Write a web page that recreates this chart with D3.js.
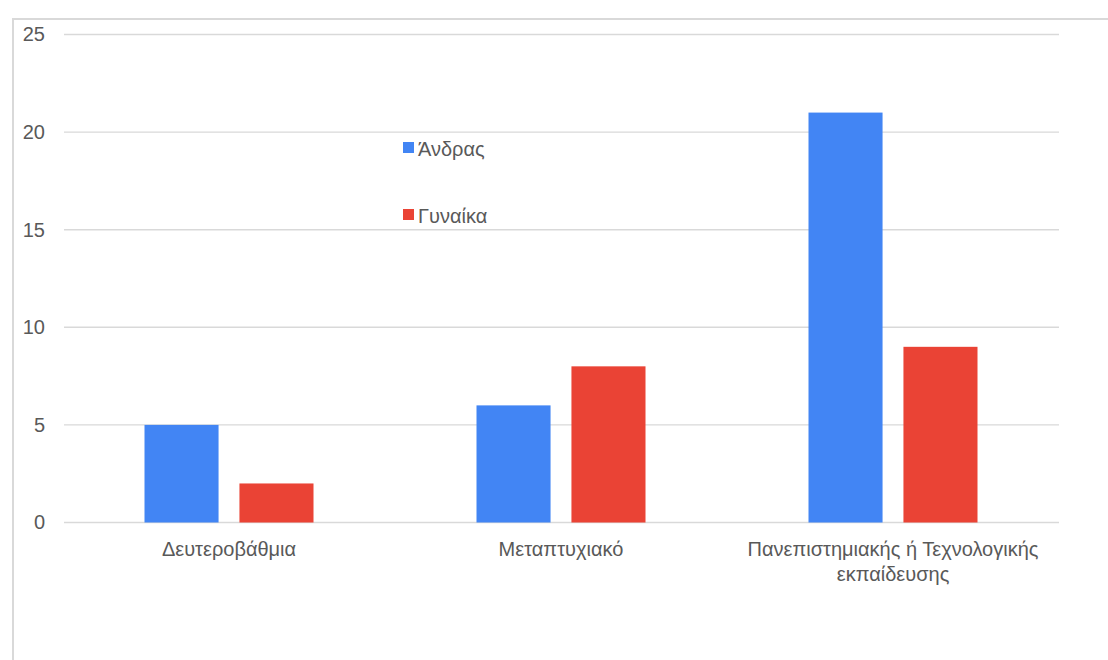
<!DOCTYPE html>
<html lang="el">
<head>
<meta charset="UTF-8">
<script src="https://d3js.org/d3.v7.min.js"></script>
<style>
  body { margin: 0; background: #fff; }
  text { font-family: "Liberation Sans", Arial, sans-serif; fill: #595959; }
</style>
</head>
<body>
<script>
// δεδομένα
var categories = ["Δευτεροβάθμια", "Μεταπτυχιακό", "Πανεπιστημιακής ή Τεχνολογικής εκπαίδευσης"];
var seriesNames = ["Άνδρας", "Γυναίκα"];
var andras = [5, 6, 21];
var gynaika = [2, 8, 9];
var yTicks = [0, 5, 10, 15, 20, 25];
var colors = ["#4285f4", "#ea4335"];

var width = 1108, height = 660;
var margin = { left: 63, right: 49, top: 34.5, bottom: 137.5 };

var svg = d3.select("body").append("svg")
    .attr("width", width)
    .attr("height", height);

// cadre
svg.append("rect")
    .attr("x", 13).attr("y", 19)
    .attr("width", width).attr("height", height)
    .attr("fill", "none")
    .attr("stroke", "#d9d9d9")
    .attr("stroke-width", 2);

var x = d3.scaleBand()
    .domain(categories)
    .range([margin.left, width - margin.right]);

var x1 = d3.scaleBand()
    .domain(seriesNames)
    .range([0, 169])
    .paddingInner(0.22);

var y = d3.scaleLinear()
    .domain([0, 25])
    .range([height - margin.bottom, margin.top]);

// grille
svg.append("g")
    .selectAll("line")
    .data(yTicks)
    .join("line")
    .attr("x1", 64)
    .attr("x2", width - margin.right)
    .attr("y1", d => y(d))
    .attr("y2", d => y(d))
    .attr("stroke", "#d9d9d9")
    .attr("stroke-width", 1.4);

// axe y
var yAxis = svg.append("g")
    .attr("transform", "translate(45,0)")
    .call(d3.axisLeft(y).tickValues(yTicks).tickSize(0).tickPadding(0));
yAxis.select(".domain").remove();
yAxis.selectAll("text").style("font-size", "20px").attr("fill", "#595959");

// barres
var rows = categories.map((c, i) => ({ cat: c, vals: [andras[i], gynaika[i]] }));
var groups = svg.append("g")
    .selectAll("g")
    .data(rows)
    .join("g")
    .attr("transform", d => "translate(" + (x(d.cat) + x.bandwidth() / 2 - 84.5) + ",0)");

groups.selectAll("rect")
    .data(d => d.vals.map((v, k) => ({ name: seriesNames[k], v: v, k: k })))
    .join("rect")
    .attr("x", d => x1(d.name))
    .attr("width", x1.bandwidth())
    .attr("y", d => y(d.v))
    .attr("height", d => y(0) - y(d.v))
    .attr("fill", d => colors[d.k]);

// étiquettes x
function wrap(textSel, maxW) {
    textSel.each(function () {
        var t = d3.select(this);
        var words = t.text().split(" ");
        t.text(null);
        var line = [];
        var tspan = t.append("tspan").attr("x", t.attr("x")).attr("dy", 0);
        words.forEach(function (w) {
            line.push(w);
            tspan.text(line.join(" "));
            if (tspan.node().getComputedTextLength() > maxW && line.length > 1) {
                line.pop();
                tspan.text(line.join(" "));
                line = [w];
                tspan = t.append("tspan").attr("x", t.attr("x")).attr("dy", 25).text(w);
            }
        });
    });
}

svg.append("g")
    .selectAll("text")
    .data(categories)
    .join("text")
    .attr("x", d => x(d) + x.bandwidth() / 2)
    .attr("y", 555.5)
    .attr("text-anchor", "middle")
    .style("font-size", "20px")
    .text(d => d)
    .call(wrap, 320);

// légende
var legendY = [142, 209];
var legend = svg.append("g")
    .selectAll("g")
    .data(seriesNames)
    .join("g")
    .attr("transform", (d, i) => "translate(403," + legendY[i] + ")");
legend.append("rect")
    .attr("x", 0).attr("y", 0)
    .attr("width", 11).attr("height", 11)
    .attr("fill", (d, i) => colors[i]);
legend.append("text")
    .attr("x", 417).attr("x", 15).attr("y", 14)
    .style("font-size", "20px")
    .text(d => d);
</script>
</body>
</html>
